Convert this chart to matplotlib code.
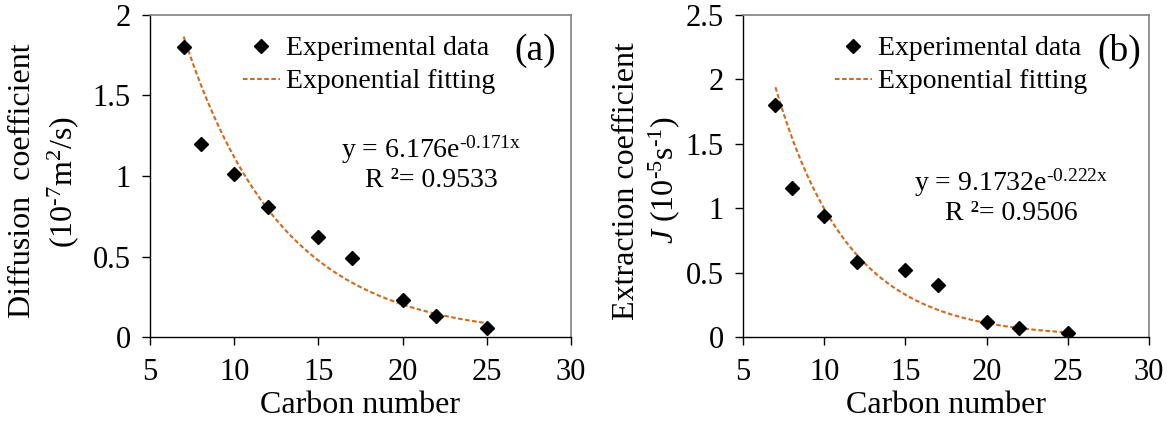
import numpy as np
import matplotlib
matplotlib.use("Agg")
import matplotlib.pyplot as plt
from matplotlib.lines import Line2D

plt.rcParams['font.family'] = ['Liberation Serif', 'DejaVu Serif']
plt.rcParams['mathtext.fontset'] = 'custom'
plt.rcParams['mathtext.rm'] = 'Liberation Serif'
plt.rcParams['mathtext.it'] = 'Liberation Serif:italic'
plt.rcParams['mathtext.bf'] = 'Liberation Serif:bold'

HY = '\u2010'  # hyphen glyph (plain dash as in the reference)

# ---- data ----
carbon_number = [7, 8, 10, 12, 15, 17, 20, 22, 25]
diffusion_coef = [1.80, 1.20, 1.01, 0.81, 0.62, 0.49, 0.23, 0.13, 0.055]
extraction_coef = [1.80, 1.16, 0.94, 0.58, 0.52, 0.40, 0.12, 0.07, 0.03]

# fitted trendline coefficients as printed on the chart
fit_a = (6.176, -0.171)
fit_b = (9.1732, -0.222)
eq_a = ["y = 6.176e$^{\\mathrm{" + HY + "0.171x}}$", "R \u00b2= 0.9533"]
eq_b = ["y = 9.1732e$^{\\mathrm{" + HY + "0.222x}}$", "R \u00b2= 0.9506"]

xticks = [5, 10, 15, 20, 25, 30]
yticks_a = [0, 0.5, 1, 1.5, 2]
yticks_b = [0, 0.5, 1, 1.5, 2, 2.5]

W, H = 1167, 423
fig = plt.figure(figsize=(W / 100, H / 100), dpi=100)

def px_ax(l, r, t, b):
    return [l / W, (H - b) / H, (r - l) / W, (b - t) / H]

ax1 = fig.add_axes(px_ax(150, 571, 15, 337))
ax2 = fig.add_axes(px_ax(743, 1149, 15, 337))

fit_color = '#D2691E'

def style(ax, ylim, yticks, ylabels):
    ax.set_xlim(5, 30)
    ax.set_ylim(*ylim)
    ax.set_xticks(xticks)
    ax.set_yticks(yticks)
    ax.set_yticklabels(ylabels)
    ax.set_xticklabels([str(t) for t in xticks])
    for s in ['left', 'bottom']:
        ax.spines[s].set_color('black')
        ax.spines[s].set_linewidth(1.0)
    for s in ['top', 'right']:
        ax.spines[s].set_color('#808080')
        ax.spines[s].set_linewidth(1.2)
    ax.tick_params(axis='both', direction='out', length=6, width=1.0,
                   labelsize=22, colors='black')
    ax.tick_params(axis='y', pad=8)
    ax.tick_params(axis='x', pad=9)
    ax.set_xlabel('Carbon number', fontsize=23, labelpad=3)

def panel(ax, x, y, fit, eq, eqpos, tag, tagpos, legx):
    xf = np.linspace(min(x), max(x), 200)
    yf = fit[0] * np.exp(fit[1] * xf)
    ax.plot(xf, yf, color=fit_color, lw=1.5, linestyle=(0, (2.2, 1.2)), zorder=2)
    ax.plot(x, y, linestyle='none', marker='D', ms=7.3, color='black', zorder=3)
    handles = [Line2D([], [], linestyle='none', marker='D', ms=7.3, color='black'),
               Line2D([], [], color=fit_color, lw=1.5, linestyle=(0, (2.2, 1.2)))]
    ax.legend(handles, ['Experimental data', 'Exponential fitting'],
              loc='upper left', bbox_to_anchor=(legx, 0.935), frameon=False,
              fontsize=20, borderpad=0, borderaxespad=0, handlelength=1.33,
              handletextpad=0.2, labelspacing=0.27)
    ax.text(eqpos[0], eqpos[1], eq[0], fontsize=20, ha='center', va='center')
    ax.text(eqpos[0], eqpos[2], eq[1], fontsize=20, ha='center', va='center')
    ax.text(tagpos[0], tagpos[1], tag, fontsize=27, ha='center', va='center',
            transform=ax.transAxes)

style(ax1, (0, 2), yticks_a, ['0', '0.5', '1', '1.5', '2'])
style(ax2, (0, 2.5), yticks_b, ['0', '0.5', '1', '1.5', '2', '2.5'])

panel(ax1, carbon_number, diffusion_coef, fit_a, eq_a, (21.7, 1.16, 0.975),
      '(a)', ((535 - 150) / 421, (337 - 51) / 322), (243 - 150) / 421)
panel(ax2, carbon_number, extraction_coef, fit_b, eq_b, (21.5, 1.20, 0.96),
      '(b)', ((1119 - 743) / 406, (337 - 51) / 322), (835 - 743) / 406)

# y-axis labels (two lines each)
fig.text(23 / W, 1 - 181 / H, 'Diffusion  coefficient', rotation=90,
         fontsize=23, ha='center', va='center')
fig.text(63 / W, 1 - 182 / H, '(10$^{\\mathrm{' + HY + '7}}$m$^{2}$/s)', rotation=90,
         fontsize=23, ha='center', va='center')
fig.text(627 / W, 1 - 181 / H, 'Extraction coefficient', rotation=90,
         fontsize=23, ha='center', va='center')
fig.text(664 / W, 1 - 180 / H, '$J$ (10$^{\\mathrm{' + HY + '5}}$s$^{\\mathrm{' + HY + '1}}$)',
         rotation=90, fontsize=23, ha='center', va='center')

fig.savefig('out.png', dpi=100)
